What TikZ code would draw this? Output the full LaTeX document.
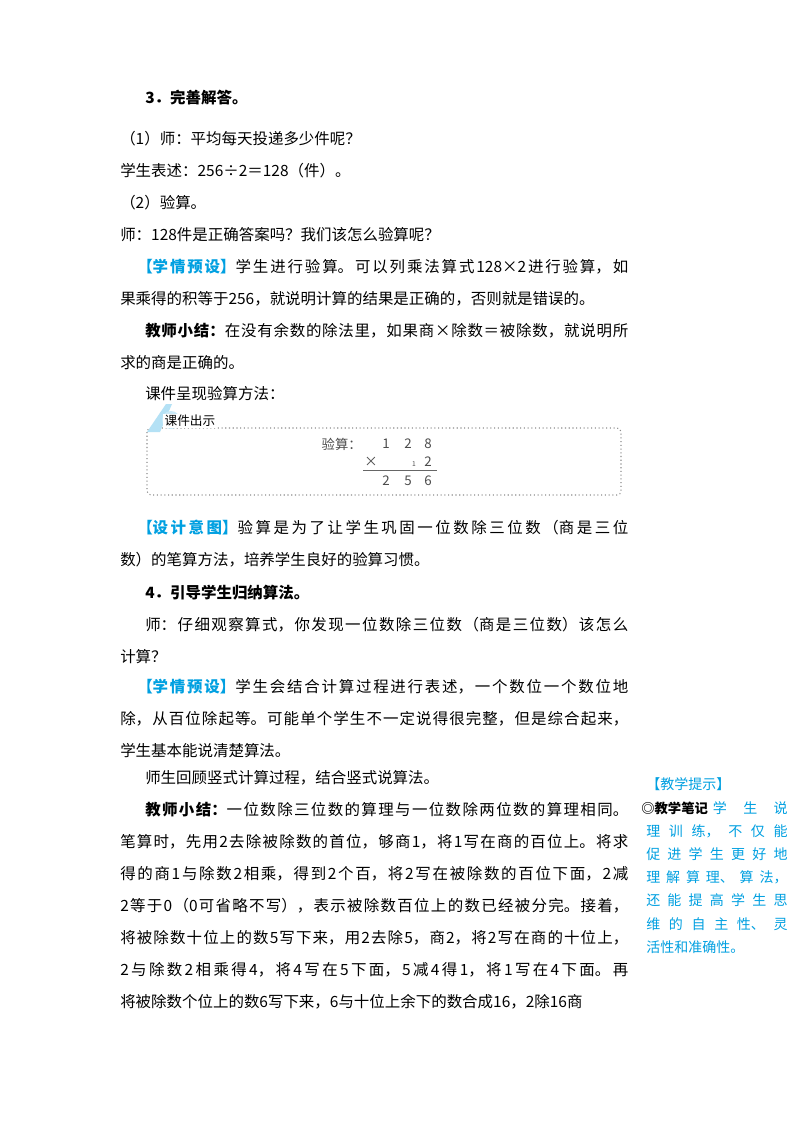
\documentclass[tikz,border=0pt]{standalone}
\usepackage{fontspec}
\setmainfont{Noto Sans CJK SC}
\usetikzlibrary{positioning}
\definecolor{tb}{RGB}{0,160,225}
\definecolor{tabb}{RGB}{180,225,245}
\XeTeXlinebreaklocale "zh"
\XeTeXlinebreakskip=0pt plus 3pt
\begin{document}
\begin{tikzpicture}[x=0.75pt,y=-0.75pt,
  para/.style={anchor=north west,inner sep=0pt,text width=381pt,align=justify,
    font=\fontsize{11.6pt}{24pt}\selectfont},
  side/.style={anchor=north west,inner sep=0pt,text width=106pt,align=justify,text=tb,
    font=\fontsize{10.5pt}{17.4pt}\selectfont},
  calc/.style={inner sep=0pt,text=black!70,font=\fontsize{10pt}{12pt}\selectfont}]
\fill[white] (0,0) rectangle (800,1132);
\node[para] (h3) at (120,90) {\hspace*{18.75pt}\textbf{3．完善解答。}};
\node[para] (p1) at (120,131) {（1）师：平均每天投递多少件呢？};
\node[para] (p2) at (120,163) {学生表述：256÷2＝128（件）。};
\node[para] (p3) at (120,195) {（2）验算。};
\node[para] (p4) at (120,227) {师：128件是正确答案吗？我们该怎么验算呢？};
\node[para] (p5) at (120,259) {\hspace*{12.75pt}\textcolor{tb}{\textbf{【学情预设】}}学生进行验算。可以列乘法算式128×2进行验算，如\linebreak 果乘得的积等于256，就说明计算的结果是正确的，否则就是错误的。};
\node[para] (p6) at (120,323) {\hspace*{18.75pt}\textbf{教师小结：}在没有余数的除法里，如果商×除数＝被除数，就说明所\linebreak 求的商是正确的。};
\node[para] (p7) at (120,386) {\hspace*{18.75pt}课件呈现验算方法：};
% box
\draw[black!45,dotted,line width=0.8pt,rounded corners=3] (147,428) rectangle (621,495);
\fill[tabb] (147,432) -- (166,404) -- (172,404) -- (160,432) -- cycle;
\fill[tabb!70] (171,420) circle (9);
\node[inner sep=1pt,fill=white,font=\fontsize{9.5pt}{11pt}\selectfont,anchor=west] (tab) at (163,421) {课件出示};
\node[calc,anchor=east] (ys) at (362,444) {验算：};
\node[calc] (a1) at (386,444) {1};
\node[calc] (a2) at (408,444) {2};
\node[calc] (a3) at (428,444) {8};
\node[calc] (mx) at (371,462) {×};
\node[calc,font=\fontsize{5pt}{6pt}\selectfont] (cr) at (414,464) {1};
\node[calc] (b3) at (428,462) {2};
\node[calc] (c1) at (386,481) {2};
\node[calc] (c2) at (408,481) {5};
\node[calc] (c3) at (428,481) {6};
\coordinate (l1) at (363,470); \coordinate (l2) at (437,470);
\draw[black!60,line width=0.5pt] (l1) -- (l2);
\node[para] (p8) at (120,520) {\hspace*{12.75pt}\textcolor{tb}{\textbf{【设计意图】}}验算是为了让学生巩固一位数除三位数（商是三位\linebreak 数）的笔算方法，培养学生良好的验算习惯。};
\node[para] (h4) at (120,585) {\hspace*{18.75pt}\textbf{4．引导学生归纳算法。}};
\node[para] (p9) at (120,617) {\hspace*{18.75pt}师：仔细观察算式，你发现一位数除三位数（商是三位数）该怎么\linebreak 计算？};
\node[para] (p10) at (120,679) {\hspace*{12.75pt}\textcolor{tb}{\textbf{【学情预设】}}学生会结合计算过程进行表述，一个数位一个数位地\linebreak 除，从百位除起等。可能单个学生不一定说得很完整，但是综合起来，\linebreak 学生基本能说清楚算法。};
\node[para] (p11) at (120,770) {\hspace*{18.75pt}师生回顾竖式计算过程，结合竖式说算法。};
\node[para] (p12) at (120,802) {\hspace*{18.75pt}\textbf{教师小结：}一位数除三位数的算理与一位数除两位数的算理相同。\linebreak 笔算时，先用2去除被除数的首位，够商1，将1写在商的百位上。将求\linebreak 得的商1与除数2相乘，得到2个百，将2写在被除数的百位下面，2减\linebreak 2等于0（0可省略不写），表示被除数百位上的数已经被分完。接着，\linebreak 将被除数十位上的数5写下来，用2去除5，商2，将2写在商的十位上，\linebreak 2与除数2相乘得4，将4写在5下面，5减4得1，将1写在4下面。再\linebreak 将被除数个位上的数6写下来，6与十位上余下的数合成16，2除16商};
% side note
\node[anchor=north west,inner sep=0pt,text=tb,font=\fontsize{10.5pt}{12pt}\selectfont] (tip) at (646,777) {【教学提示】};
\node[side] (sn) at (646,801) {\hspace*{50pt}学生说\linebreak 理训练，不仅能\linebreak 促进学生更好地\linebreak 理解算理、算法，\linebreak 还能提高学生思\linebreak 维的自主性、灵\linebreak 活性和准确性。};
\node[anchor=north west,inner sep=0pt,font=\bfseries\fontsize{10pt}{12pt}\selectfont] (bj) at (641,802) {◎教学笔记};
\end{tikzpicture}
\end{document}
